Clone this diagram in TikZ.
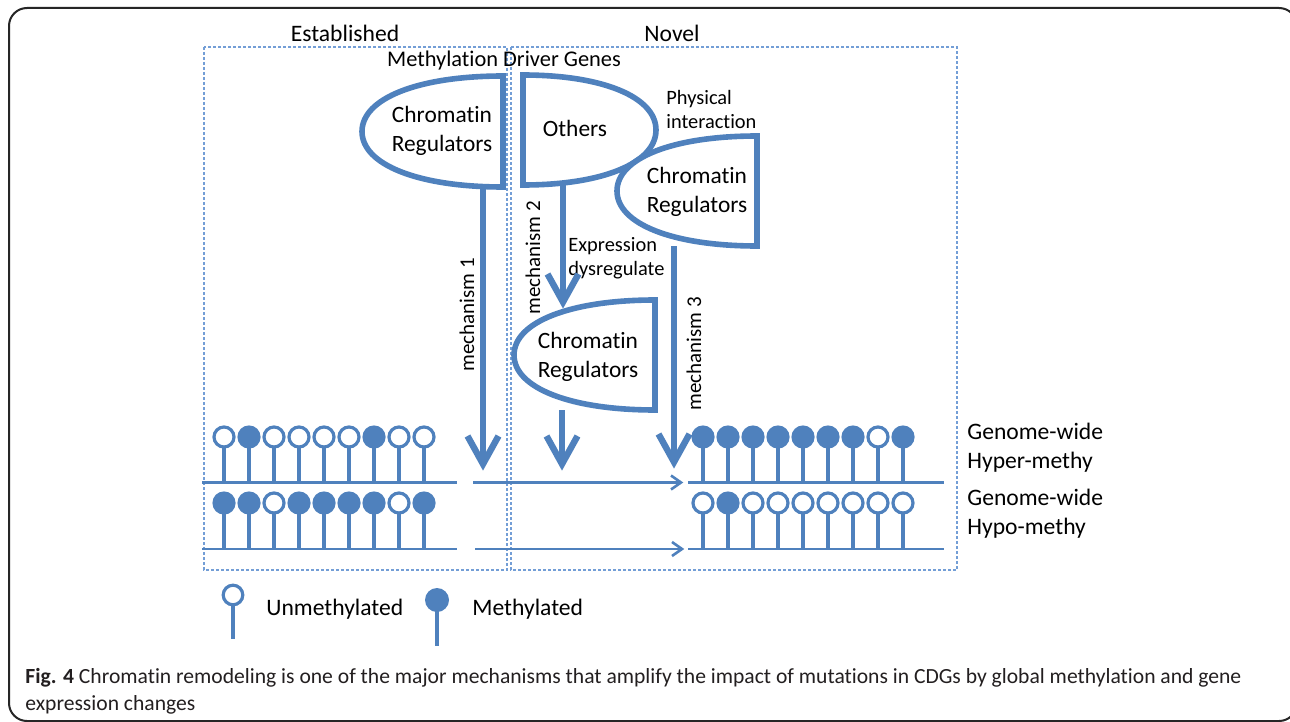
\documentclass[tikz,border=0pt]{standalone}
\usepackage{fontspec}
\setmainfont{Carlito}[Ligatures=NoCommon]
\usetikzlibrary{calc}

\definecolor{mblue}{RGB}{79,129,189}
\definecolor{dashblue}{RGB}{115,158,214}
\definecolor{captext}{RGB}{35,31,32}

% D-shaped box: #1 flat side x, #2 x of the curved tip, #3 top y, #4 bottom y
\newcommand\deebox[4]{%
  \draw[dshape] (#1,#3)
    .. controls ({#1-0.6*(#1-#2)},#3) and (#2,{(#3+#4)/2-0.3*(#4-#3)}) .. (#2,{(#3+#4)/2})
    .. controls (#2,{(#3+#4)/2+0.3*(#4-#3)}) and ({#1-0.6*(#1-#2)},#4) .. (#1,#4) -- cycle;}

% thick arrow with an open chevron head, from coordinate #1 down to coordinate #2
\newcommand\bigarrow[2]{%
  \draw[shaft] (#1) -- (#2);
  \draw[shaft] ($(#2)+(-15.5,-28)$) -- (#2) -- ($(#2)+(15.5,-28)$);}

% thin arrow pointing right, from coordinate #1 to coordinate #2
\newcommand\thinarrow[2]{%
  \draw[thinline] (#1) -- (#2);
  \draw[thinline] ($(#2)+(-10,-7)$) -- (#2) -- ($(#2)+(-10,7)$);}

% one CpG lollipop: x, head y, base y, methylated (1) or not (0)
\newcommand\lolli[4]{%
  \draw[stem] ({#1},#2) -- ({#1},#3);
  \ifnum#4=1
    \fill[mblue] ({#1},#2) circle[radius=5.8pt];
  \else
    \draw[openhead] ({#1},#2) circle[radius=5pt];
  \fi}

\tikzset{
  dshape/.style={draw=mblue, line width=2.8pt, fill=white, line join=miter},
  shaft/.style={draw=mblue, line width=3.2pt, line join=miter},
  thinline/.style={draw=mblue, line width=1.3pt, line join=miter},
  stem/.style={draw=mblue, line width=2.1pt},
  baseln/.style={draw=mblue, line width=1.35pt},
  openhead/.style={draw=mblue, fill=white, line width=1.6pt},
  zone/.style={draw=dashblue, line width=0.55pt, dash pattern=on 1.5pt off 1pt},
  lbl/.style={inner sep=0pt, font=\fontsize{11.8}{14.4}\selectfont},
  crtext/.style={inner sep=0pt, align=center, font=\fontsize{11.7}{14.3}\selectfont},
  small/.style={inner sep=0pt, align=left, font=\fontsize{10.2}{11.8}\selectfont},
  mech/.style={inner sep=0pt, rotate=90, font=\fontsize{10.5}{12.6}\selectfont},
}

\begin{document}
\begin{tikzpicture}[x=0.5pt, y=-0.5pt]
\useasboundingbox (0,0) rectangle (1290,722);
\fill[white] (0,0) rectangle (1290,722);

% outer figure frame
\begin{scope}
  \clip (0,0) rectangle (1290,722);
  \draw[black!85, line width=1pt, rounded corners=9pt] (9,8) rectangle (1297,721);
\end{scope}

% the two dashed zones
\draw[zone] (204,47) rectangle (507,570);
\draw[zone] (511,47) rectangle (957,570);
\node[lbl] (est) at (345,33) {Established};
\node[lbl] (nov) at (672,33) {Novel};
\node[lbl, font=\fontsize{11.2}{13.6}\selectfont] (mdg) at (504,61) {Methylation Driver Genes};

% gene boxes
\deebox{503}{362}{76}{187}
\node[crtext] (cr1) at (442,131) {Chromatin\\Regulators};
\deebox{523}{656}{75}{185}
\node[crtext] (oth) at (575,128) {Others};
\deebox{757}{617}{136}{246}
\node[crtext] (cr2) at (697,192) {Chromatin\\Regulators};
\deebox{655}{514}{300}{410}
\node[crtext] (cr3) at (588,357) {Chromatin\\Regulators};

\node[small, anchor=west] (phys) at (666,109.5) {Physical\\[0.6pt]interaction};
\node[small, anchor=west] (expr) at (568,258.5) {Expression\\dysregulate};

% mechanism arrows
\coordinate (cr1b) at (483,187);
\coordinate (t1) at (483,464);
\coordinate (othb) at (563,185);
\coordinate (t2) at (563,302);
\coordinate (cr3b) at (562,410);
\coordinate (t2b) at (562,464);
\coordinate (cr2b) at (674,246);
\coordinate (t3) at (674,462);
\bigarrow{cr1b}{t1}
\bigarrow{othb}{t2}
\bigarrow{cr3b}{t2b}
\bigarrow{cr2b}{t3}
\node[mech] (m1) at (467,315) {mechanism 1};
\node[mech] (m2) at (533,258) {mechanism 2};
\node[mech] (m3) at (694,354) {mechanism 3};

% DNA strands: before (left) and after (right)
\draw[baseln] (202,482.5) -- (457,482.5);
\draw[baseln] (202,549) -- (457,549);
\draw[baseln] (688,482.5) -- (944,482.5);
\draw[baseln] (688,549) -- (944,549);
\foreach \s [count=\i from 0] in {0,1,0,0,0,0,1,0,0} {\lolli{224+25*\i}{437}{482.5}{\s}}
\foreach \s [count=\i from 0] in {1,1,0,1,1,1,1,0,1} {\lolli{224+25*\i}{503}{549}{\s}}
\foreach \s [count=\i from 0] in {1,1,1,1,1,1,1,0,1} {\lolli{703+25*\i}{437}{482.5}{\s}}
\foreach \s [count=\i from 0] in {0,1,0,0,0,0,0,0,0} {\lolli{703+25*\i}{503}{549}{\s}}

\coordinate (h1s) at (473,482.5);
\coordinate (h1e) at (681,482.5);
\coordinate (h2s) at (475,549);
\coordinate (h2e) at (682,549);
\thinarrow{h1s}{h1e}
\thinarrow{h2s}{h2e}

\node[lbl, anchor=west, align=left] (hyper) at (967,447.5) {Genome-wide\\Hyper-methy};
\node[lbl, anchor=west, align=left] (hypo) at (967,514) {Genome-wide\\Hypo-methy};

% legend
\draw[stem] (233,595) -- (233,639);
\draw[openhead] (233,595) circle[radius=4.9pt];
\node[lbl, anchor=west] (lu) at (266,609) {Unmethylated};
\draw[stem] (437,600) -- (437,646);
\fill[mblue] (437,600) circle[radius=6pt];
\node[lbl, anchor=west] (lm) at (472,609) {Methylated};

% caption
\node[anchor=west, align=left, inner sep=0pt, text=captext,
      font=\fontsize{10.8}{13.4}\selectfont] (cap) at (25,691.5)
  {\textbf{Fig. 4} Chromatin remodeling is one of the major mechanisms that amplify the impact of mutations in CDGs by global methylation and gene\\
   expression changes};
\end{tikzpicture}
\end{document}
